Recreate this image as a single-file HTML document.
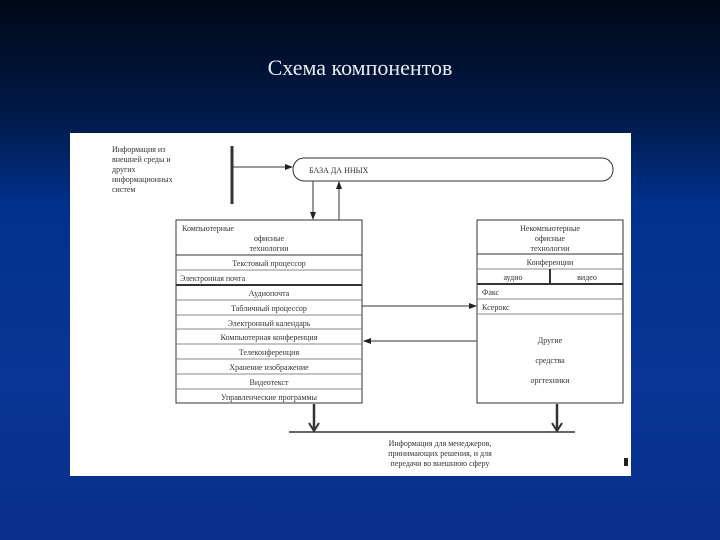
<!DOCTYPE html>
<html><head><meta charset="utf-8"><style>
html,body{margin:0;padding:0}
body{width:720px;height:540px;overflow:hidden;background:linear-gradient(#000816 0%,#001a4a 22%,#00318c 38%,#0a3596 70%,#082f8a 100%);position:relative;font-family:"Liberation Serif",serif}
.t{position:absolute;left:0;width:720px;top:55px;text-align:center;color:#e8ecf4;font-size:22px}
svg{position:absolute;left:0;top:0}
text{font-family:"Liberation Serif",serif;font-size:8px;fill:#333;stroke:none}
</style></head><body>
<div class="t">Схема компонентов</div>
<svg width="720" height="540">
<defs><marker id="a" markerWidth="8" markerHeight="8" refX="7" refY="4" orient="auto" markerUnits="userSpaceOnUse"><path d="M0,1 L8,4 L0,7 Z" fill="#222"/></marker></defs>
<rect x="70" y="133" width="561" height="343" fill="#fff"/>
<g stroke="#333" fill="none" stroke-width="1">
<line x1="232" y1="146" x2="232" y2="204" stroke-width="3"/>
<line x1="232" y1="167" x2="292" y2="167" marker-end="url(#a)"/>
<rect x="293" y="158" width="320" height="23" rx="11"/>
<line x1="313" y1="181" x2="313" y2="219" marker-end="url(#a)"/>
<line x1="339" y1="220" x2="339" y2="182" marker-end="url(#a)"/>
<rect x="176" y="220" width="186" height="183"/>
<rect x="477" y="220" width="146" height="183"/>
<line x1="176" y1="255" x2="362" y2="255"/>
<line x1="176" y1="270" x2="362" y2="270" stroke="#888"/>
<line x1="176" y1="285" x2="362" y2="285" stroke-width="2"/>
<line x1="176" y1="300" x2="362" y2="300" stroke="#888"/>
<line x1="176" y1="315" x2="362" y2="315" stroke="#888"/>
<line x1="176" y1="329" x2="362" y2="329" stroke="#888"/>
<line x1="176" y1="344" x2="362" y2="344" stroke="#888"/>
<line x1="176" y1="359" x2="362" y2="359" stroke="#888"/>
<line x1="176" y1="374" x2="362" y2="374" stroke="#888"/>
<line x1="176" y1="389" x2="362" y2="389" stroke="#888"/>
<line x1="477" y1="254" x2="623" y2="254"/>
<line x1="477" y1="269" x2="623" y2="269" stroke="#888"/>
<line x1="477" y1="284" x2="623" y2="284" stroke-width="2"/>
<line x1="477" y1="299" x2="623" y2="299" stroke="#888"/>
<line x1="477" y1="314" x2="623" y2="314" stroke="#888"/>
<line x1="550" y1="269" x2="550" y2="284" stroke-width="2"/>
<line x1="362" y1="306" x2="476" y2="306" marker-end="url(#a)"/>
<line x1="477" y1="341" x2="364" y2="341" stroke="#777" stroke-width="1.5" marker-end="url(#a)"/>
<line x1="314" y1="404" x2="314" y2="430" stroke-width="2.5"/>
<path d="M309,423 L314,431 L319,423" stroke-width="2"/>
<line x1="557" y1="404" x2="557" y2="430" stroke-width="2.5"/>
<path d="M552,423 L557,431 L562,423" stroke-width="2"/>
<line x1="289" y1="432" x2="575" y2="432" stroke-width="1.5"/>
<rect x="624" y="458" width="4" height="8" fill="#222" stroke="none"/>
</g>
<text x="112" y="152">Информация из</text>
<text x="112" y="162">внешней среды и</text>
<text x="112" y="172">других</text>
<text x="112" y="182">информационных</text>
<text x="112" y="192">систем</text>
<text x="309" y="173">БАЗА ДА ННЫХ</text>
<text x="182" y="231">Компьютерные</text>
<text x="269" y="241" text-anchor="middle">офисные</text>
<text x="269" y="251" text-anchor="middle">технологии</text>
<g text-anchor="middle">
<text x="269" y="266">Текстовый процессор</text>
<text x="269" y="296">Аудиопочта</text>
<text x="269" y="311">Табличный процессор</text>
<text x="269" y="326">Электронный календарь</text>
<text x="269" y="340">Компьютерная конференция</text>
<text x="269" y="355">Телеконференция</text>
<text x="269" y="370">Хранение изображение</text>
<text x="269" y="385">Видеотекст</text>
<text x="269" y="400">Управленческие программы</text>
<text x="550" y="231">Некомпьютерные</text>
<text x="550" y="241">офисные</text>
<text x="550" y="251">технологии</text>
<text x="550" y="265">Конференции</text>
<text x="513" y="280">аудио</text>
<text x="587" y="280">видео</text>
<text x="550" y="343">Другие</text>
<text x="550" y="363">средства</text>
<text x="550" y="383">оргтехники</text>
<text x="440" y="446">Информация для менеджеров,</text>
<text x="440" y="456">принимающих решения, и для</text>
<text x="440" y="466">передачи во внешнюю сферу</text>
</g>
<text x="180" y="281">Электронная почта</text>
<text x="482" y="295">Факс</text>
<text x="482" y="310">Ксерокс</text>
</svg>
</body></html>
